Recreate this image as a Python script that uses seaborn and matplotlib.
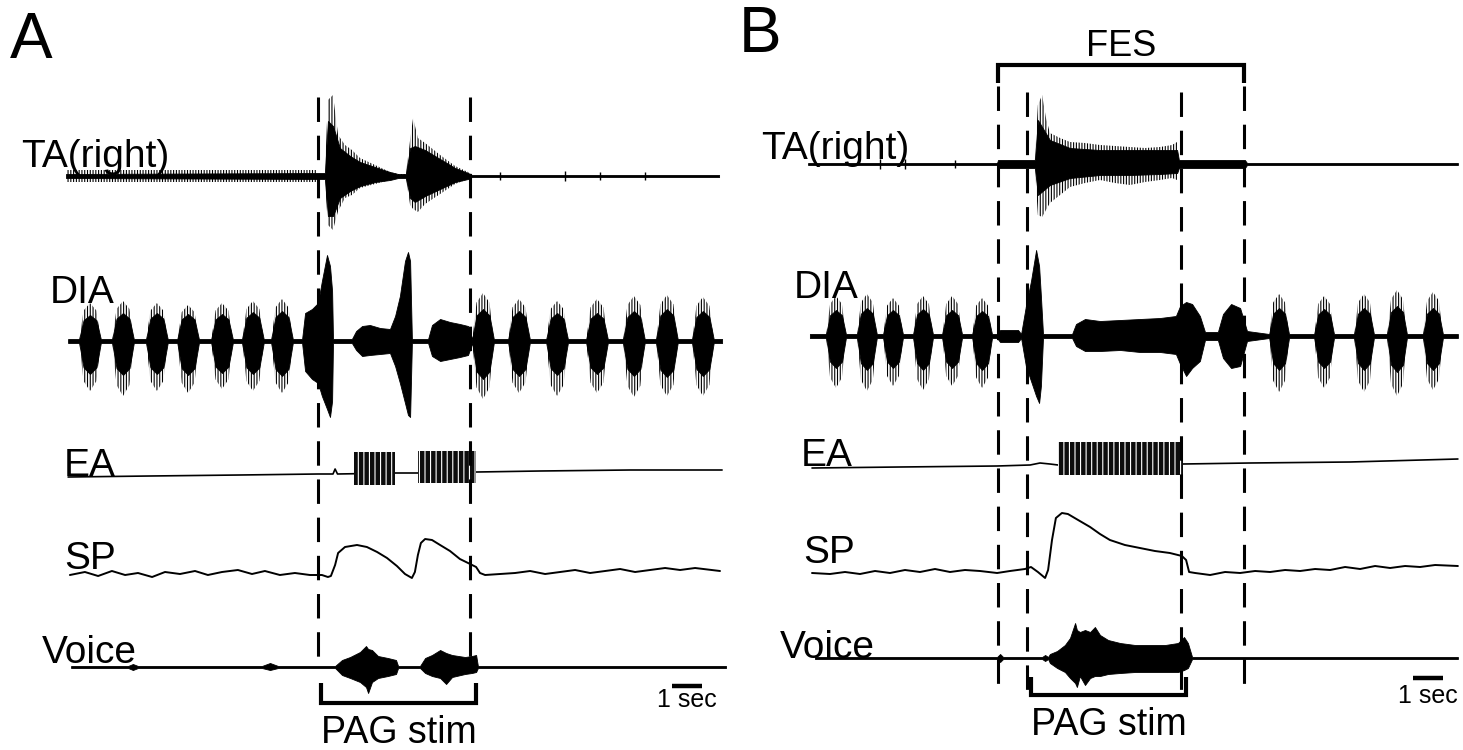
import numpy as np
import seaborn as sns
import matplotlib.pyplot as plt

# time in seconds from the left edge of each panel, amplitude in trace units (up = positive)

# ---------------- panel A ----------------
ta_a_t = [2.2, 10.83, 10.93, 11.1, 11.33, 11.67, 12.0, 12.5, 13.0, 13.27, 13.53, 13.67, 13.83, 14.17, 14.67, 15.17, 15.6, 15.73, 23.97]
ta_a_up = [2, 3, 55, 50, 28, 20, 14, 9, 4, 2, 2, 28, 30, 26, 17, 8, 3, 1, 1]
ta_a_lo = [-2, -3, -40, -40, -22, -15, -10, -6, -4, -2, -2, -22, -26, -20, -13, -6, -3, -1, -1]
ta_a_fr_t = [10.83, 10.93, 11.1, 11.27, 11.5, 11.73, 12.0, 12.5, 13.0, 13.27, 13.53, 13.67, 13.77, 13.93, 14.17, 14.67, 15.17, 15.6, 15.73]
ta_a_fr_up = [3, 76, 81, 41, 31, 26, 18, 11, 4, 2, 2, 36, 58, 38, 33, 21, 10, 4, 1]
ta_a_fr_lo = [-3, -49, -54, -35, -22, -19, -12, -8, -4, -2, -2, -29, -33, -36, -28, -18, -8, -3, -1]
ta_a_tick_t = [2.2, 10.53]
ta_a_tick_amp = 6
ta_a_spk_t = [16.67, 18.83, 20.0, 21.5]
ta_a_spk_amp = [4, 5, 4, 4]

dia_a_t = [2.27, 10.07, 10.17, 10.4, 10.6, 10.73, 10.9, 11.0, 11.07, 11.1, 11.73, 11.87, 12.07, 12.33, 12.67,
           13.0, 13.17, 13.33, 13.5, 13.6, 13.67, 13.73, 14.27, 14.4, 14.67, 15.0, 15.33, 15.6, 24.07]
dia_a_up = [2, 2, 28, 32, 38, 60, 86, 75, 50, 2, 2, 10, 15, 16, 13, 12, 25, 45, 80, 89, 80, 2, 2, 16, 22, 19, 17, 15, 2]
dia_a_lo = [-2, -2, -30, -38, -42, -55, -68, -76, -60, -2, -2, -9, -15, -14, -13, -12, -25, -42, -62, -74, -76, -2, -2,
            -15, -20, -18, -16, -14, -2]
dia_a_burst_t = [3.0, 4.1, 5.23, 6.27, 7.4, 8.43, 9.4, 16.1, 17.3, 18.57, 19.9, 21.13, 22.23, 23.43]
dia_a_burst_top = [26, 28, 28, 27, 27, 29, 30, 32, 30, 28, 28, 30, 32, 30]
dia_a_burst_bot = [-33, -34, -33, -34, -32, -33, -35, -38, -35, -34, -33, -35, -36, -35]
dia_a_fringe_top = [38, 40, 38, 36, 38, 40, 42, 48, 42, 40, 42, 45, 46, 44]
dia_a_fringe_bot = [-50, -55, -50, -52, -48, -50, -52, -58, -52, -55, -52, -56, -55, -55]

ea_a_t = [2.27, 5.0, 8.0, 10.6, 11.1, 11.17, 11.25, 13.2, 13.9, 15.9, 18.0, 21.0, 24.07]
ea_a_y = [-4, -3, -2, -1, -1, 4, -1, 0, 0, 1, 2, 3, 3]
ea_a_on = [11.8, 13.93]
ea_a_off = [13.17, 15.87]
ea_a_top = [21, 22]
ea_a_bot = [-12, -10]

sp_a_t = [2.33, 2.83, 3.27, 3.73, 4.17, 4.6, 5.07, 5.5, 6.0, 6.5, 6.93, 7.4, 7.93, 8.4, 8.83, 9.33, 9.83, 10.33,
          10.73, 10.93, 11.03, 11.17, 11.27, 11.5, 11.9, 12.23, 12.57, 12.9, 13.23, 13.5, 13.73, 13.83, 13.93, 14.03,
          14.17, 14.4, 14.67, 15.0, 15.33, 15.67, 15.87, 16.0, 16.17, 16.67, 17.17, 17.67, 18.17, 18.67, 19.17, 19.67,
          20.17, 20.67, 21.17, 21.67, 22.17, 22.67, 23.17, 24.0]
sp_a_y = [-2, 1, -3, 2, -2, 0, -4, 1, -1, 2, -2, 1, 3, -1, 2, -2, 0, -2, -2, -4, -3, 8, 20, 26, 28, 26, 21, 15, 7, -1,
          -5, 1, 18, 30, 34, 33, 28, 22, 14, 9, 6, 0, -2, -1, 0, 2, -1, 1, 3, 0, 2, 4, 1, 3, 5, 3, 5, 2]

voice_a_t = [2.37, 4.27, 4.43, 4.6, 8.73, 9.0, 9.27, 11.17, 11.4, 11.67, 12.0, 12.2, 12.27, 12.4, 12.6, 12.93, 13.2,
             13.27, 14.0, 14.17, 14.4, 14.67, 14.87, 15.07, 15.5, 15.73, 15.87, 15.93, 24.2]
voice_a_up = [1, 1, 3, 1, 1, 4, 1, 1, 7, 10, 15, 21, 18, 17, 11, 9, 7, 1, 1, 9, 12, 17, 14, 12, 10, 11, 12, 1, 1]
voice_a_lo = [-1, -1, -3, -1, -1, -3, -1, -1, -8, -11, -15, -20, -26, -15, -11, -9, -7, -1, -1, -6, -9, -11, -17,
              -10, -7, -6, -5, -1, -1]

stim_a = [10.6, 15.67]
pag_a = [10.7, 15.87]
scale_a = [22.4, 23.4]

# ---------------- panel B ----------------
ta_b_t = [2.57, 8.87, 8.9, 10.13, 10.23, 10.63, 11.3, 12.3, 13.3, 14.3, 14.87, 14.93, 17.13, 17.2, 24.23]
ta_b_up = [1, 1, 4, 4, 44, 24, 16, 14, 14, 14, 14, 4, 4, 1, 1]
ta_b_lo = [-1, -1, -4, -4, -31, -21, -14, -11, -11, -10, -9, -4, -4, -1, -1]
ta_b_fr_t = [10.13, 10.23, 10.37, 10.5, 10.63, 10.97, 11.3, 11.8, 12.3, 12.8, 13.3, 13.8, 14.3, 14.7, 14.87, 14.93]
ta_b_fr_up = [4, 59, 69, 46, 31, 26, 22, 21, 19, 18, 17, 16, 17, 19, 22, 4]
ta_b_fr_lo = [-4, -51, -53, -46, -39, -31, -23, -19, -16, -19, -21, -18, -16, -14, -16, -4]
ta_b_spk_t = [4.97, 5.8, 7.47]
ta_b_spk_amp = [5, 5, 4]

dia_b_t = [2.63, 8.87, 8.97, 9.57, 9.67, 9.83, 10.0, 10.17, 10.27, 10.33, 10.4, 11.37, 11.5, 11.8, 12.3, 12.97,
           13.63, 14.3, 14.83, 14.97, 15.17, 15.37, 15.63, 15.8, 16.23, 16.4, 16.67, 16.97, 17.2, 24.23]
dia_b_up = [2, 2, 6, 6, 2, 30, 55, 86, 70, 40, 2, 2, 12, 17, 15, 16, 17, 18, 20, 30, 34, 32, 20, 4, 4, 22, 32, 28, 5, 2]
dia_b_lo = [-2, -2, -6, -6, -2, -30, -45, -60, -67, -50, -2, -2, -10, -15, -15, -14, -16, -16, -18, -28, -40, -32,
            -25, -4, -4, -22, -32, -30, -5, -2]
dia_b_burst_t = [3.5, 4.53, 5.4, 6.4, 7.37, 8.37, 18.27, 19.77, 21.1, 22.2, 23.4]
dia_b_burst_top = [26, 28, 26, 27, 26, 25, 28, 27, 28, 30, 28]
dia_b_burst_bot = [-32, -34, -32, -34, -32, -34, -34, -32, -34, -36, -34]
dia_b_fringe_top = [40, 42, 38, 40, 40, 38, 42, 40, 42, 46, 44]
dia_b_fringe_bot = [-52, -55, -50, -54, -50, -52, -56, -52, -56, -60, -54]

ea_b_t = [2.7, 5.63, 8.87, 9.97, 10.3, 10.63, 10.9, 15.07, 17.3, 20.63, 24.23]
ea_b_y = [-3, -2, -1, 0, 2, 1, 0, 1, 2, 3, 6]
ea_b_on = [10.9]
ea_b_off = [15.07]
ea_b_top = [23]
ea_b_bot = [-10]

sp_b_t = [2.7, 3.3, 3.8, 4.3, 4.8, 5.3, 5.8, 6.3, 6.8, 7.3, 7.8, 8.3, 8.87, 9.3, 9.8, 10.0, 10.23, 10.47, 10.57,
          10.7, 10.83, 11.03, 11.23, 11.57, 11.97, 12.3, 12.63, 13.13, 13.63, 14.13, 14.63, 15.03, 15.17, 15.27,
          15.47, 15.97, 16.47, 16.97, 17.47, 17.97, 18.47, 18.97, 19.47, 19.97, 20.47, 20.97, 21.47, 21.97, 22.47,
          22.97, 23.47, 24.23]
sp_b_y = [-5, -6, -4, -6, -3, -5, -2, -4, -1, -4, -2, -3, -5, -3, -1, 1, -4, -10, -2, 28, 50, 55, 54, 48, 41, 34,
          28, 23, 20, 17, 15, 12, 8, -4, -5, -7, -4, -5, -3, -4, -2, -3, -1, -2, 1, -1, 2, 0, 2, 1, 3, 2]

voice_b_t = [2.8, 8.87, 8.97, 9.07, 10.37, 10.47, 10.57, 10.63, 10.87, 11.13, 11.3, 11.47, 11.53, 11.63, 11.8,
             11.97, 12.13, 12.3, 12.57, 12.97, 13.47, 13.97, 14.47, 14.9, 15.1, 15.23, 15.37, 24.23]
voice_b_up = [1, 1, 4, 1, 1, 3, 1, 4, 7, 13, 20, 35, 28, 26, 28, 26, 31, 23, 18, 15, 13, 13, 13, 15, 21, 15, 1, 1]
voice_b_lo = [-1, -1, -4, -1, -1, -3, -1, -5, -10, -14, -20, -25, -29, -18, -27, -20, -18, -18, -16, -15, -14, -14,
              -14, -14, -12, -10, -1, -1]

fes_b = [8.9, 17.1]
stim_b = [9.87, 15.0]
pag_b = [10.0, 15.17]
scale_b = [22.73, 23.73]

# ---------------- layout ----------------
base_a = {"TA": 176, "DIA": 341, "EA": 473, "SP": 573, "Voice": 667}
base_b = {"TA": 164, "DIA": 336, "EA": 465, "SP": 568, "Voice": 658}
label_a = {"TA(right)": (0.7, 167), "DIA": (1.67, 303), "EA": (2.13, 476), "SP": (2.13, 569), "Voice": (1.4, 663)}
label_b = {"TA(right)": (1.0, 159), "DIA": (2.1, 298), "EA": (2.33, 466), "SP": (2.4, 563), "Voice": (1.63, 658)}
# spindle profile of a respiratory burst: relative position and relative height
spindle_x = [-1.0, -0.6, 0.0, 0.6, 1.0]
spindle_h = [0.0, 0.8, 1.0, 0.8, 0.0]

sns.set_theme(style="white")
plt.rcParams['font.family'] = ['Liberation Sans', 'DejaVu Sans']
plt.rcParams['text.color'] = 'black'
plt.rcParams['hatch.linewidth'] = 0.8

fig = plt.figure(figsize=(14.63, 7.5), dpi=100)
fig.patch.set_facecolor('white')
ax_a = fig.add_axes([0, 0, 731 / 1463, 1])
ax_b = fig.add_axes([731 / 1463, 0, 732 / 1463, 1])
for ax, w in ((ax_a, 731 / 30), (ax_b, 732 / 30)):
    ax.set_xlim(0, w)
    ax.set_ylim(750, 0)
    ax.axis('off')


def emg(ax, base, t, up, lo, burst_t=None, top=None, bot=None, half=0.35, floor=2):
    t, up, lo = list(t), list(up), list(lo)
    if burst_t is not None:
        for c, a, b in zip(burst_t, top, bot):
            t += [c + half * s for s in spindle_x]
            up += [max(floor, a * h) for h in spindle_h]
            lo += [min(-floor, b * h) for h in spindle_h]
    order = np.argsort(t)
    t = np.array(t)[order]
    ax.fill_between(t, base - np.array(up)[order], base - np.array(lo)[order],
                    color='black', lw=0.6, zorder=3)


def fringe(ax, base, t, up, lo):
    ax.fill_between(np.array(t), base - np.array(up), base - np.array(lo), facecolor='none',
                    edgecolor='black', hatch='||||||', lw=0, zorder=2)


def fringe_bursts(ax, base, burst_t, top, bot, half):
    for c, a, b in zip(burst_t, top, bot):
        fringe(ax, base, [c + half * s for s in spindle_x], [a * h for h in spindle_h], [b * h for h in spindle_h])


def line(ax, base, t, y, lw=1.3):
    sns.lineplot(x=np.array(t), y=base - np.array(y), ax=ax, color='black', lw=lw,
                 estimator=None, sort=False, zorder=3)


def blocks(ax, base, on, off, top, bot):
    for t0, t1, a, b in zip(on, off, top, bot):
        ax.fill_between([t0, t1], base - a, base - b, facecolor='0.05', edgecolor='white',
                        hatch='|||', lw=0, zorder=4)


def dashed(ax, xs, y0, y1):
    ax.vlines(xs, y0, y1, colors='black', lw=2.2, linestyles=(0, (8, 4.5)), zorder=5)


def bracket(ax, xs, y, yend):
    ax.plot([xs[0], xs[0], xs[1], xs[1]], [yend, y, y, yend], color='black', lw=3,
            solid_joinstyle='miter', solid_capstyle='butt', zorder=5)


def scalebar(ax, xs, y, ytext):
    ax.plot(xs, [y, y], color='black', lw=3.2, solid_capstyle='butt')
    ax.text(sum(xs) / 2, ytext, "1 sec", fontsize=18, ha='center', va='baseline')


# panel A traces
ba = base_a
fringe(ax_a, ba["TA"], ta_a_tick_t, [ta_a_tick_amp] * 2, [-ta_a_tick_amp] * 2)
fringe(ax_a, ba["TA"], ta_a_fr_t, ta_a_fr_up, ta_a_fr_lo)
emg(ax_a, ba["TA"], ta_a_t, ta_a_up, ta_a_lo)
ax_a.vlines(ta_a_spk_t, ba["TA"] - np.array(ta_a_spk_amp), ba["TA"] + np.array(ta_a_spk_amp), colors='black', lw=1)

fringe_bursts(ax_a, ba["DIA"], dia_a_burst_t, dia_a_fringe_top, dia_a_fringe_bot, 0.36)
emg(ax_a, ba["DIA"], dia_a_t, dia_a_up, dia_a_lo, dia_a_burst_t, dia_a_burst_top, dia_a_burst_bot, half=0.36)

line(ax_a, ba["EA"], ea_a_t, ea_a_y, lw=1.2)
blocks(ax_a, ba["EA"], ea_a_on, ea_a_off, ea_a_top, ea_a_bot)
line(ax_a, ba["SP"], sp_a_t, sp_a_y, lw=1.4)
emg(ax_a, ba["Voice"], voice_a_t, voice_a_up, voice_a_lo)

dashed(ax_a, stim_a, 97, 667)
bracket(ax_a, pag_a, 703, 683)
ax_a.text(sum(pag_a) / 2, 743, "PAG stim", fontsize=27, ha='center', va='baseline')
scalebar(ax_a, scale_a, 686, 707)

# panel B traces
bb = base_b
fringe(ax_b, bb["TA"], ta_b_fr_t, ta_b_fr_up, ta_b_fr_lo)
emg(ax_b, bb["TA"], ta_b_t, ta_b_up, ta_b_lo)
ax_b.vlines(ta_b_spk_t, bb["TA"] - np.array(ta_b_spk_amp), bb["TA"] + np.array(ta_b_spk_amp), colors='black', lw=1)

fringe_bursts(ax_b, bb["DIA"], dia_b_burst_t, dia_b_fringe_top, dia_b_fringe_bot, 0.33)
emg(ax_b, bb["DIA"], dia_b_t, dia_b_up, dia_b_lo, dia_b_burst_t, dia_b_burst_top, dia_b_burst_bot, half=0.33)

line(ax_b, bb["EA"], ea_b_t, ea_b_y, lw=1.2)
blocks(ax_b, bb["EA"], ea_b_on, ea_b_off, ea_b_top, ea_b_bot)
line(ax_b, bb["SP"], sp_b_t, sp_b_y, lw=1.4)
emg(ax_b, bb["Voice"], voice_b_t, voice_b_up, voice_b_lo)

dashed(ax_b, fes_b, 86, 693)
dashed(ax_b, stim_b, 92, 690)
bracket(ax_b, fes_b, 65, 83)
ax_b.text(sum(fes_b) / 2, 56, "FES", fontsize=26, ha='center', va='baseline')
bracket(ax_b, pag_b, 695, 677)
ax_b.text(sum(pag_b) / 2, 735, "PAG stim", fontsize=27, ha='center', va='baseline')
scalebar(ax_b, scale_b, 678, 703)

# labels
for ax, labels in ((ax_a, label_a), (ax_b, label_b)):
    for name, (x, y) in labels.items():
        ax.text(x, y, name, fontsize=28, ha='left', va='baseline')
ax_a.text(0.33, 58, "A", fontsize=46, ha='left', va='baseline')
ax_b.text(0.27, 52, "B", fontsize=46, ha='left', va='baseline')

fig.savefig("out.png", dpi=100, facecolor='white')
